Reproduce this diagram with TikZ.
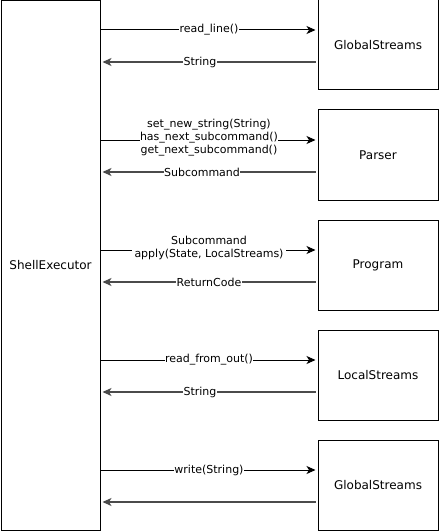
\documentclass[tikz,border=0pt]{standalone}
\usepackage{fontspec}
\setmainfont{DejaVu Sans}
\usetikzlibrary{arrows.meta}
\definecolor{backgray}{RGB}{75,75,75}
\begin{document}
\begin{tikzpicture}[x=1pt,y=-1pt,
  box/.style={draw=black,line width=1pt,fill=white,minimum width=120pt,minimum height=90pt,inner sep=0pt,font=\fontsize{12}{14}\selectfont},
  fwd/.style={draw=black,line width=1pt,-{Stealth[length=9pt,width=8pt,inset=2.5pt]},shorten >=2pt},
  bwd/.style={draw=backgray,line width=1.3pt,-{Stealth[length=9pt,width=8pt,inset=2.5pt]},shorten >=2pt,shorten <=2pt},
  lbl/.style={fill=white,inner sep=0.5pt,text=black,align=center,font=\fontsize{11}{13}\selectfont}]
\useasboundingbox (0,0) rectangle (440,532);
\node[box,minimum width=99pt,minimum height=529pt] (se) at (50.5,265.5) {ShellExecutor};
\node[box] (g1) at (378,45) {GlobalStreams};
\node[box] (pa) at (378,155) {Parser};
\node[box] (pr) at (378,265) {Program};
\node[box] (ls) at (378,375) {LocalStreams};
\node[box] (g2) at (378,485) {GlobalStreams};
\draw[fwd] (se.east |- 0,30) -- node[lbl] {read\_line()} (g1.west |- 0,30);
\draw[bwd] (g1.west |- 0,62) -- node[lbl,xshift=-9pt] {String} (se.east |- 0,62);
\draw[fwd] (se.east |- 0,140) -- node[lbl,yshift=2pt] {set\_new\_string(String)\\has\_next\_subcommand()\\get\_next\_subcommand()} (pa.west |- 0,140);
\draw[bwd] (pa.west |- 0,172) -- node[lbl,xshift=-7pt] {Subcommand} (se.east |- 0,172);
\draw[fwd] (se.east |- 0,250) -- node[lbl,yshift=2.5pt,inner xsep=2pt] {Subcommand\\apply(State, LocalStreams)} (pr.west |- 0,250);
\draw[bwd] (pr.west |- 0,282) -- node[lbl] {ReturnCode} (se.east |- 0,282);
\draw[fwd] (se.east |- 0,360) -- node[lbl] {read\_from\_out()} (ls.west |- 0,360);
\draw[bwd] (ls.west |- 0,392) -- node[lbl,xshift=-9pt] {String} (se.east |- 0,392);
\draw[fwd] (se.east |- 0,470) -- node[lbl] {write(String)} (g2.west |- 0,470);
\draw[bwd] (g2.west |- 0,502) -- (se.east |- 0,502);
\end{tikzpicture}
\end{document}
